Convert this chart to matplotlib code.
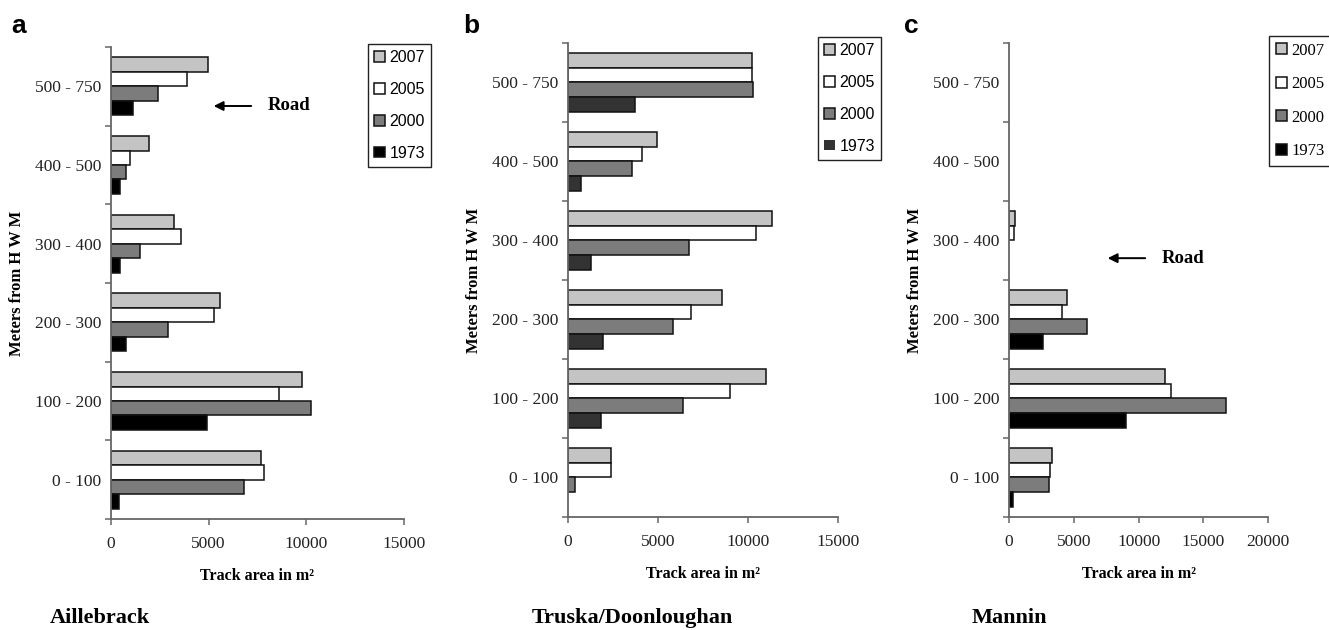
import numpy as np
import matplotlib
matplotlib.use("Agg")
import matplotlib.pyplot as plt

# categories bottom -> top
categories = ['0 - 100', '100 - 200', '200 - 300', '300 - 400', '400 - 500', '500 - 750']
years = ['2007', '2005', '2000', '1973']

aillebrack_2007 = [7700, 9780, 5560, 3240, 1950, 4950]
aillebrack_2005 = [7850, 8590, 5290, 3580, 990, 3890]
aillebrack_2000 = [6790, 10220, 2930, 1500, 750, 2410]
aillebrack_1973 = [420, 4930, 770, 480, 460, 1140]

truska_2007 = [2420, 11000, 8550, 11300, 4970, 10230]
truska_2005 = [2420, 9010, 6850, 10420, 4140, 10200]
truska_2000 = [420, 6400, 5850, 6700, 3550, 10280]
truska_1973 = [0, 1850, 1950, 1280, 720, 3750]

mannin_2007 = [3300, 12040, 4500, 490, 0, 0]
mannin_2005 = [3140, 12480, 4120, 360, 0, 0]
mannin_2000 = [3070, 16750, 6050, 0, 0, 0]
mannin_1973 = [290, 9060, 2600, 0, 0, 0]

site_names = ['Aillebrack', 'Truska/Doonloughan', 'Mannin']
panel_letters = ['a', 'b', 'c']

serif = 'Liberation Serif'
sans = 'Liberation Sans'

fig = plt.figure(figsize=(13.29, 6.30), dpi=100)

# axes boxes in figure fractions (left, bottom, width, height)
boxes = [(0.0835, 0.1762, 0.2205, 0.7492),
         (0.4272, 0.1794, 0.2036, 0.7524),
         (0.7592, 0.1794, 0.1951, 0.7524)]

panels = [
    ([aillebrack_2007, aillebrack_2005, aillebrack_2000, aillebrack_1973], 15000, '#000000'),
    ([truska_2007, truska_2005, truska_2000, truska_1973], 15000, '#333333'),
    ([mannin_2007, mannin_2005, mannin_2000, mannin_1973], 20000, '#000000'),
]

ylabel_x = [-0.2935, -0.317, -0.332]
legend_pos = [(0.2767, 0.9302), (0.6153, 0.9413), (0.9549, 0.9429)]
legend_font = [sans, sans, serif]
legend_size = [11.5, 11.5, 12]
letter_x = [11, 463, 904]
site_x = [50, 532, 972]

h = 0.184
y = np.arange(len(categories))
offsets = [1.5, 0.5, -0.5, -1.5]

for k in range(3):
    series, xmax, dark = panels[k]
    colors = ['#c4c4c4', '#ffffff', '#7c7c7c', dark]
    ax = fig.add_axes(boxes[k])
    handles = []
    for s in range(4):
        vals = series[s]
        lw = [1.1 if v > 0 else 0 for v in vals]
        b = ax.barh(y + offsets[s] * h, vals, height=h, color=colors[s],
                    edgecolor='#111111', linewidth=lw, label=years[s])
        handles.append(b)

    ax.set_xlim(0, xmax)
    ax.set_ylim(-0.5, len(categories) - 0.5)
    ax.set_xticks(np.arange(0, xmax + 1, 5000))
    ax.set_yticks(y)
    ax.set_yticklabels(categories)
    ax.set_yticks(np.arange(-0.5, len(categories), 1.0), minor=True)

    for sp in ['top', 'right']:
        ax.spines[sp].set_visible(False)
    for sp in ['left', 'bottom']:
        ax.spines[sp].set_color('#666666')
        ax.spines[sp].set_linewidth(1.3)

    ax.tick_params(axis='y', which='major', length=0, pad=7)
    ax.tick_params(axis='y', which='minor', length=4, width=1.1, color='#666666')
    ax.tick_params(axis='x', which='major', length=4, width=1.1, color='#666666', pad=8)
    for lab in ax.get_xticklabels() + ax.get_yticklabels():
        lab.set_fontfamily(serif)
        lab.set_fontsize(12.5)
        lab.set_color('#222222')

    ax.set_xlabel('Track area in m²', fontfamily=serif, fontsize=11.5,
                  fontweight='bold', labelpad=12)
    ax.set_ylabel('Meters from H W M', fontfamily=serif, fontsize=12, fontweight='bold')
    ax.yaxis.set_label_coords(ylabel_x[k], 0.5)

    leg = fig.legend(handles=handles, labels=years, loc='upper left',
                     bbox_to_anchor=legend_pos[k], borderaxespad=0,
                     prop={'family': legend_font[k], 'size': legend_size[k]},
                     handlelength=0.65, handleheight=0.65, handletextpad=0.3,
                     labelspacing=1.05, borderpad=0.4, fancybox=False,
                     framealpha=1, edgecolor='#222222')
    leg.get_frame().set_linewidth(1.0)

    fig.text(letter_x[k] / 1329, 1 - 33 / 630, panel_letters[k], fontfamily=sans,
             fontsize=19, fontweight='bold', va='baseline', ha='left')
    fig.text(site_x[k] / 1329, 1 - 618 / 630, site_names[k], fontfamily=serif,
             fontsize=16, fontweight='bold', va='center', ha='left')

    if k == 0:
        ax.annotate('', xy=(0.341, 0.875), xytext=(0.488, 0.875), xycoords='axes fraction',
                    arrowprops=dict(arrowstyle='-|>', color='black', lw=1.4,
                                    mutation_scale=14))
        ax.text(0.536, 0.875, 'Road', transform=ax.transAxes, fontfamily=serif,
                fontsize=13.5, fontweight='bold', va='center', ha='left')
    if k == 2:
        ax.annotate('', xy=(0.370, 0.546), xytext=(0.536, 0.546), xycoords='axes fraction',
                    arrowprops=dict(arrowstyle='-|>', color='black', lw=1.4,
                                    mutation_scale=14))
        ax.text(0.590, 0.546, 'Road', transform=ax.transAxes, fontfamily=serif,
                fontsize=13.5, fontweight='bold', va='center', ha='left')

fig.savefig('out.png', dpi=100)
